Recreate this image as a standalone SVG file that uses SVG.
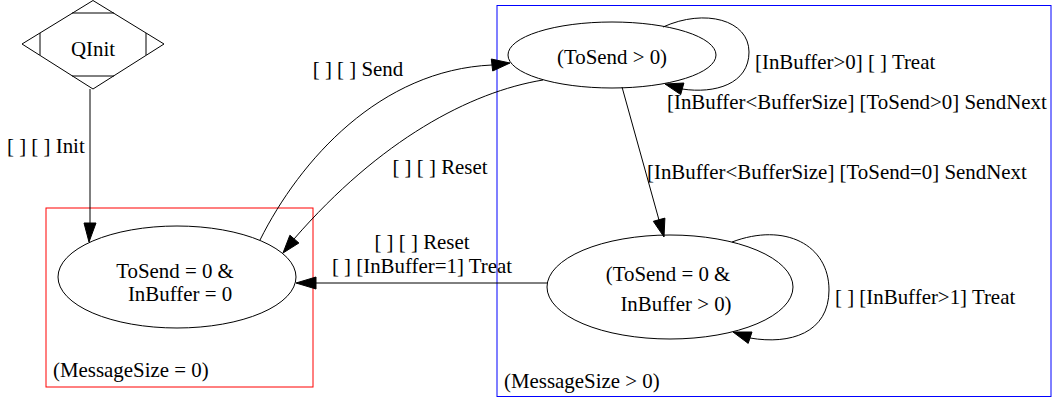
<svg xmlns="http://www.w3.org/2000/svg" width="1056" height="401" viewBox="0 0 1056 401" font-family="Liberation Serif, Times New Roman, serif">
<style>
text{font-family:'Liberation Serif','Times New Roman',Times,serif;font-size:20.9px;fill:#000}
.c{text-anchor:middle}
.node{fill:none;stroke:#000;stroke-width:1}
.edge{fill:none;stroke:#000;stroke-width:1}
.head{fill:#000;stroke:#000;stroke-width:1}
</style>
<rect width="1056" height="401" fill="#fff"/>
<g id="cluster-zero">
<rect x="46" y="208" width="267" height="179" fill="none" stroke="#ff0000"/>
<text x="53" y="377">(MessageSize = 0)</text>
</g>
<g id="cluster-positive">
<rect x="497" y="5.5" width="554" height="391" fill="none" stroke="#0000ff"/>
<text x="504" y="388">(MessageSize &gt; 0)</text>
</g>
<g id="node-qinit">
<polygon class="node" points="93,0.5 164,44 93,89 22,44"/>
<line class="node" x1="72" y1="13" x2="114" y2="13"/>
<line class="node" x1="72" y1="76" x2="114" y2="76"/>
<line class="node" x1="40" y1="33" x2="40" y2="55"/>
<line class="node" x1="146" y1="33" x2="146" y2="55"/>
<text class="c" x="93" y="56">QInit</text>
</g>
<g id="node-empty">
<ellipse class="node" cx="177" cy="277" rx="119" ry="51"/>
<text class="c" x="175" y="278">ToSend = 0 &amp;</text>
<text class="c" x="180" y="301">InBuffer = 0</text>
</g>
<g id="node-tosend">
<ellipse class="node" cx="612" cy="55" rx="104" ry="33"/>
<text class="c" x="612" y="64">(ToSend &gt; 0)</text>
</g>
<g id="node-buffer">
<ellipse class="node" cx="670" cy="287" rx="123" ry="52"/>
<text class="c" x="668" y="281">(ToSend = 0 &amp;</text>
<text class="c" x="676" y="311">InBuffer &gt; 0)</text>
</g>
<g id="connectors">
<path class="edge" d="M90,89 L90,223"/>
<polygon class="head" points="89,242 84,223 96,223"/>
<text x="7" y="153">[ ] [ ] Init</text>

<path class="edge" d="M260,240 C300,160 380,70 492,65"/>
<polygon class="head" points="510,63 492.7,71 491.3,59"/>
<text class="c" x="358" y="76">[ ] [ ] Send</text>

<path class="edge" d="M543,80 C470,92 380,140 294,239"/>
<polygon class="head" points="283,253 298.9,243 289.9,235.2"/>
<text class="c" x="440" y="174">[ ] [ ] Reset</text>

<path class="edge" d="M547,283 L316,283"/>
<polygon class="head" points="296,283 316,277 316,289"/>
<text class="c" x="422" y="249">[ ] [ ] Reset</text>
<text class="c" x="422" y="273">[ ] [InBuffer=1] Treat</text>

<path class="edge" d="M663,27 C705,8 749,20 749,52 C749,84 715,94 682,89"/>
<polygon class="head" points="665,84 683.9,83 680.7,94.6"/>
<text x="755" y="69">[InBuffer&gt;0] [ ] Treat</text>
<text x="667" y="109">[InBuffer&lt;BufferSize] [ToSend&gt;0] SendNext</text>

<path class="edge" d="M622,87 L659,220"/>
<polygon class="head" points="664,237 664.9,218.1 653.3,221.3"/>
<text x="647" y="179">[InBuffer&lt;BufferSize] [ToSend=0] SendNext</text>

<path class="edge" d="M732,242 C785,222 829,245 829,290 C829,333 790,345 750,338"/>
<polygon class="head" points="733,332 752,332 748.2,343.4"/>
<text x="835" y="304">[ ] [InBuffer&gt;1] Treat</text>
</g>
</svg>
